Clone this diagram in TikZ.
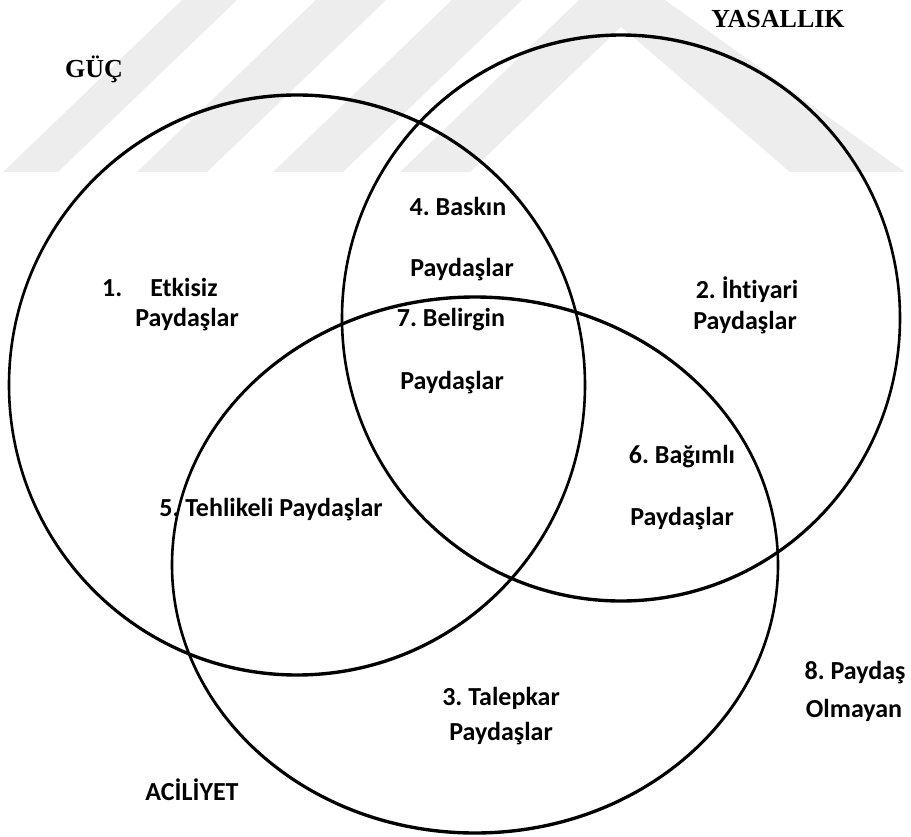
\documentclass[tikz,border=0pt]{standalone}
\usepackage{fontspec}
\setmainfont{Carlito}[Ligatures=NoCommon]
\newfontfamily\headfont{Liberation Serif}
\frenchspacing
\begin{document}
\begin{tikzpicture}[x=1pt,y=-1pt,
  ring/.style={draw=black, line width=2.6pt},
  lbl/.style={font=\fontsize{26}{30}\selectfont\bfseries, inner sep=0pt, align=center},
  head/.style={font=\headfont\fontsize{26}{30}\selectfont\bfseries, inner sep=0pt},
  wmark/.style={fill=black!7, draw=none}]
\useasboundingbox (0,0) rectangle (911,837);
\fill[white] (0,0) rectangle (911,837);

% light background emblem along the top edge
\begin{scope}
  \clip (0,0) rectangle (911,172);
  \fill[wmark] (3,172) -- (58,172) -- (237,0) -- (182,0) -- cycle;
  \fill[wmark] (137,172) -- (207,172) -- (386,0) -- (316,0) -- cycle;
  \fill[wmark] (273,172) -- (343,172) -- (522,0) -- (452,0) -- cycle;
  \fill[wmark] (400,172) -- (470,172) -- (649,0) -- (579,0) -- cycle;
  \fill[wmark] (590,0) -- (665,0) -- (905,172) -- (790,172) -- cycle;
\end{scope}

% the three attribute sets; drawn in a vertically stretched canvas so
% that the strokes are heavier at top and bottom than at the sides
\begin{scope}[transform canvas={yscale=1.3}]
  \draw[ring] (297,296.15) ellipse [x radius=288pt, y radius=223.08pt];
  \draw[ring] (621,244.62) ellipse [x radius=279pt, y radius=217.69pt];
  \draw[ring] (475,434.62) ellipse [x radius=303pt, y radius=206.15pt];
\end{scope}

% set names
\node[head] (guc) at (94,69) {GÜÇ};
\node[head] (yas) at (778,19) {YASALLIK};
\node[lbl] (acil) at (192,790) {ACİLİYET};

% stakeholder classes
\node[lbl, anchor=west] (c1a) at (102,287) {1.\hspace{28pt}Etkisiz};
\node[lbl] (c1b) at (187,320) {Paydaşlar};
\node[lbl] (c4a) at (458,206) {4. Baskın};
\node[lbl] (c4b) at (462,270) {Paydaşlar};
\node[lbl] (c7a) at (451,320) {7. Belirgin};
\node[lbl] (c7b) at (452,383) {Paydaşlar};
\node[lbl] (c2a) at (747,290) {2. İhtiyari};
\node[lbl] (c2b) at (745,323) {Paydaşlar};
\node[lbl] (c6a) at (682,457) {6. Bağımlı};
\node[lbl] (c6b) at (682,519) {Paydaşlar};
\node[lbl] (c5) at (271,510) {5. Tehlikeli Paydaşlar};
\node[lbl] (c3a) at (501,698) {3. Talepkar};
\node[lbl] (c3b) at (501,734) {Paydaşlar};
\node[lbl] (c8a) at (855,673) {8. Paydaş};
\node[lbl] (c8b) at (854,710) {Olmayan};
\end{tikzpicture}
\end{document}
